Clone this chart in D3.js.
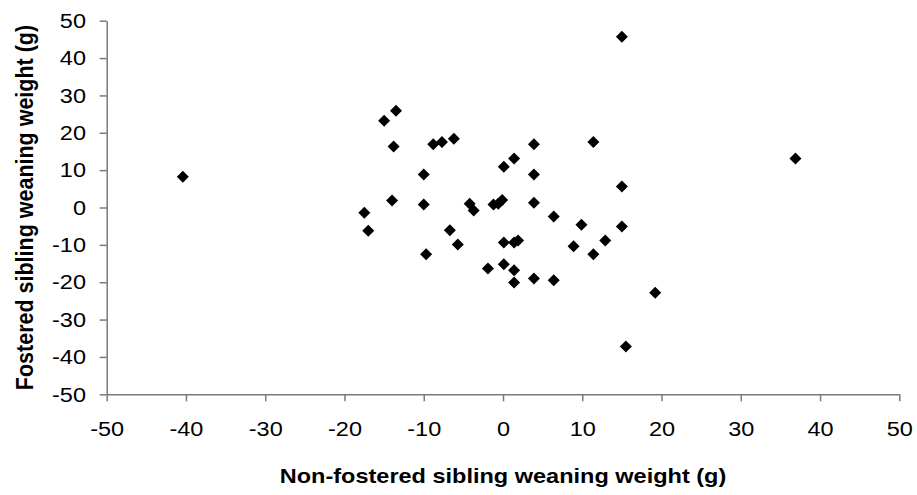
<!DOCTYPE html>
<html>
<head>
<meta charset="utf-8">
<script src="https://cdn.jsdelivr.net/npm/d3@7"></script>
<style>
  body { margin: 0; background: #fff; }
  text { font-family: "Liberation Sans", Arial, sans-serif; fill: #000; }
</style>
</head>
<body>
<script>
// data
var nonFostered = [-40.4, -13.5, -15.0, -13.8, -14.0, -17.5, -17.0, -8.8, -7.7, -6.2,
                   3.9, 11.4, 1.4, 0.1, 3.9, -10.0, -10.0, -4.2, -3.7, -1.2,
                   -0.6, -0.1, 3.9, 6.4, 9.9, 15.0, 15.0, -6.7, -5.7, -9.7,
                   0.1, 1.4, 1.9, 8.9, 12.9, 11.4, -1.9, 0.1, 1.4, 1.4,
                   3.9, 6.4, 19.2, 15.5, 15.0, 36.9];
var fostered    = [8.2, 25.9, 23.2, 16.3, 1.9, -1.4, -6.2, 16.9, 17.5, 18.4,
                   16.9, 17.5, 13.1, 10.9, 8.8, 8.8, 0.8, 1.0, -0.8, 0.8,
                   1.0, 2.0, 1.3, -2.4, -4.6, 5.6, -5.1, -6.1, -9.9, -12.5,
                   -9.4, -9.4, -8.8, -10.4, -8.8, -12.5, -16.3, -15.2, -16.8, -20.1,
                   -19.0, -19.5, -22.8, -37.2, 45.7, 13.1];
var xTicks = [-50, -40, -30, -20, -10, 0, 10, 20, 30, 40, 50];
var yTicks = [-50, -40, -30, -20, -10, 0, 10, 20, 30, 40, 50];
var xTitle = "Non-fostered sibling weaning weight (g)";
var yTitle = "Fostered sibling weaning weight (g)";

var width = 917, height = 495;
var stretch = 1.12; // the original text looks a bit wide

var x = d3.scaleLinear().domain([-50, 50]).range([106.7, 899.3]);
var y = d3.scaleLinear().domain([-50, 50]).range([394.3, 20.7]);

// plain hyphen for negatives, like the original
function plain(d) { return String(d); }

var svg = d3.select("body").append("svg")
    .attr("width", width)
    .attr("height", height);

// x axis at the bottom
var gx = svg.append("g")
    .attr("transform", "translate(0," + y(-50) + ")")
    .call(d3.axisBottom(x).tickValues(xTicks).tickFormat(plain)
      .tickSize(7).tickPadding(20).tickSizeOuter(0));

// y axis on the left
var gy = svg.append("g")
    .attr("transform", "translate(" + x(-50) + ",0)")
    .call(d3.axisLeft(y).tickValues(yTicks).tickFormat(plain)
      .tickSize(7).tickPadding(11.5).tickSizeOuter(0));

[gx, gy].forEach(function(g) {
  g.select(".domain").attr("stroke", "#7a7a7a").attr("stroke-width", 1.5);
  g.selectAll(".tick line").attr("stroke", "#7a7a7a").attr("stroke-width", 1.5);
  g.selectAll(".tick text")
    .attr("font-size", 21)
    .attr("font-family", "Liberation Sans, Arial, sans-serif")
    .attr("fill", "#000")
    .attr("transform", "scale(" + stretch + ",1)");
});

// points
svg.append("g").selectAll("path")
    .data(nonFostered)
    .enter()
    .append("path")
    .attr("d", d3.symbol().type(d3.symbolSquare).size(72))
    .attr("fill", "#000")
    .attr("transform", function(d, i) {
      return "translate(" + x(d) + "," + y(fostered[i]) + ") rotate(45)";
    });

// axis titles
svg.append("text")
    .attr("transform", "translate(" + (x(-50) + x(50)) / 2 + ",483) scale(" + stretch + ",1)")
    .attr("text-anchor", "middle")
    .attr("font-size", 21)
    .attr("font-weight", "bold")
    .text(xTitle);

svg.append("text")
    .attr("transform", "translate(33," + (y(-50) + y(50)) / 2 + ") rotate(-90) scale(1," + stretch + ")")
    .attr("text-anchor", "middle")
    .attr("font-size", 21.5)
    .attr("font-weight", "bold")
    .text(yTitle);
</script>
</body>
</html>
